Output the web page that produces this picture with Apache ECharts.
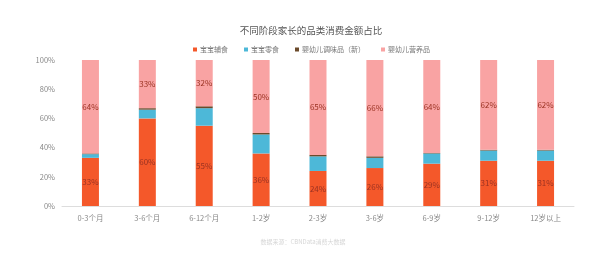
<!DOCTYPE html>
<html>
<head>
<meta charset="utf-8">
<script src="https://cdn.jsdelivr.net/npm/echarts@6/dist/echarts.min.js"></script>
<style>
html,body{margin:0;padding:0;background:#fff;}
#c{width:600px;height:259px;}
</style>
</head>
<body>
<div id="c"></div>
<script>
const categories = ['0-3个月','3-6个月','6-12个月','1-2岁','2-3岁','3-6岁','6-9岁','9-12岁','12岁以上'];
const fushi   = [33, 60, 55, 36, 24, 26, 29, 31, 31];
const lingshi = [2.5, 6, 12, 13, 10, 7, 7, 7, 7];
const tiaowei = [0.5, 1, 1.3, 1, 1, 1, 0.3, 0.5, 0.5];
const yingyang= [64, 33, 32, 50, 65, 66, 64, 62, 62];
const seriesNames = ['宝宝辅食','宝宝零食','婴幼儿调味品（新）','婴幼儿营养品'];
const yTicks = [0, 20, 40, 60, 80, 100];

const colors = ['#F4582A','#4DB8D8','#6B4A2B','#F9A3A3'];
const labelStyle = {show:true, position:'inside', formatter: p => p.value + '%', color:'#9A3222', fontSize:8, fontFamily:'Noto Sans CJK SC'};

const chart = echarts.init(document.getElementById('c'), null, {renderer:'canvas'});
const dataSets = [fushi, lingshi, tiaowei, yingyang];
chart.setOption({
  animation:false,
  title:[{
    text:'不同阶段家长的品类消费金额占比',
    left:306, top:21, textAlign:'center',
    textStyle:{fontSize:9.5, fontWeight:'normal', color:'#555', fontFamily:'Noto Sans CJK SC'}
  },{
    text:'数据来源：CBNData消费大数据',
    left:298, top:234, textAlign:'center',
    textStyle:{fontSize:6, fontWeight:'normal', color:'#d6d6d6', fontFamily:'Noto Sans CJK SC'}
  }],
  legend:{
    data: seriesNames,
    left:188, top:41,
    itemWidth:4, itemHeight:4, itemGap:16,
    icon:'rect',
    textStyle:{fontSize:7, color:'#777', fontFamily:'Noto Sans CJK SC', padding:[0,0,0,-2]}
  },
  grid:{left:62, right:26, top:60, bottom:53},
  xAxis:{
    type:'category', data:categories,
    axisLine:{lineStyle:{color:'#ddd'}},
    axisTick:{show:false},
    axisLabel:{color:'#888', fontSize:7.5, margin:8, fontFamily:'Noto Sans CJK SC'}
  },
  yAxis:{
    type:'value', min:0, max:100, interval:20,
    axisLine:{show:false}, axisTick:{show:false},
    splitLine:{show:false},
    axisLabel:{formatter:'{value}%', color:'#888', fontSize:7.5, margin:7, fontFamily:'Noto Sans CJK SC'}
  },
  series: seriesNames.map((n,i)=>({
    name:n, type:'bar', stack:'a', barWidth:17,
    data:dataSets[i],
    itemStyle:{color:colors[i]},
    label:(i===0||i===3)? labelStyle : {show:false}
  }))
});
</script>
</body>
</html>
